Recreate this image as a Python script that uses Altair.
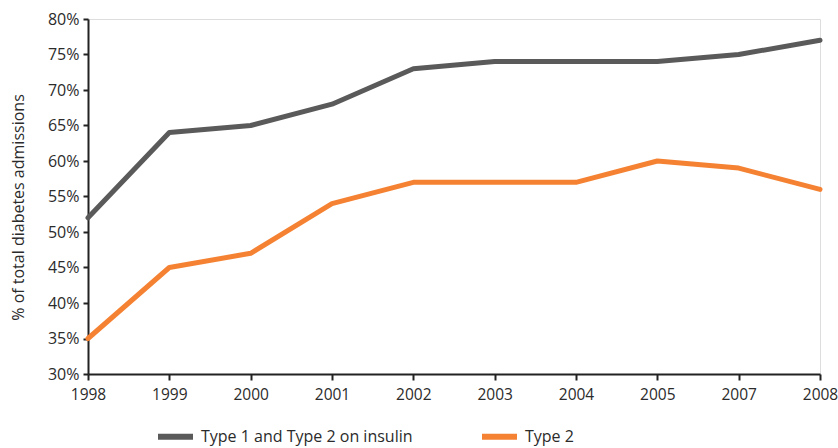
import altair as alt
import pandas as pd

years = ["1998", "1999", "2000", "2001", "2002", "2003", "2004", "2005", "2007", "2008"]
insulin = [52, 64, 65, 68, 73, 74, 74, 74, 75, 77]
type2 = [35, 45, 47, 54, 57, 57, 57, 60, 59, 56]
series_names = ["Type 1 and Type 2 on insulin", "Type 2"]
y_ticks = [30, 35, 40, 45, 50, 55, 60, 65, 70, 75, 80]

rows = []
for i, y in enumerate(years):
    rows.append({"year": y, "series": series_names[0], "value": insulin[i] / 100, "order": i})
    rows.append({"year": y, "series": series_names[1], "value": type2[i] / 100, "order": i})
df = pd.DataFrame(rows)

FONT = "Open Sans"
TXT = "#2b2b2b"
AX = "#222222"

chart = alt.Chart(df).mark_line(strokeWidth=5, strokeCap="round", strokeJoin="round").encode(
    x=alt.X("year:O", sort=years, scale=alt.Scale(type="point", padding=0),
            axis=alt.Axis(title=None, labelAngle=0, tickSize=6, labelPadding=7,
                          domainColor=AX, domainWidth=2, tickColor=AX, tickWidth=2,
                          labelFont=FONT, labelFontSize=15.5, labelColor=TXT, grid=False)),
    y=alt.Y("value:Q", scale=alt.Scale(domain=[0.30, 0.80], nice=False, zero=False),
            axis=alt.Axis(title="% of total diabetes admissions", format=".0%",
                          values=[v / 100 for v in y_ticks], tickSize=5, labelPadding=4,
                          domainColor=AX, domainWidth=2, tickColor=AX, tickWidth=2,
                          labelFont=FONT, labelFontSize=16, labelColor=TXT,
                          titleFont=FONT, titleFontSize=16, titleFontWeight="normal",
                          titleColor=TXT, titleX=-70, titleY=188, titleAngle=270,
                          titleAlign="center", titleBaseline="middle", grid=False)),
    color=alt.Color("series:N", sort=series_names,
                    scale=alt.Scale(domain=series_names, range=["#5a5a5a", "#F58233"]),
                    legend=alt.Legend(title=None, orient="none", direction="horizontal",
                                      legendX=67, legendY=397, symbolType="stroke",
                                      symbolSize=1225, symbolStrokeWidth=6,
                                      labelFont=FONT, labelFontSize=16, labelColor=TXT,
                                      columnPadding=57, labelOffset=5, padding=0,
                                      labelLimit=400)),
    order="order:Q",
).properties(
    width=732, height=355,
    autosize=alt.AutoSizeParams(type="none"),
    padding={"left": 88, "top": 19, "right": 18, "bottom": 74},
).configure_view(stroke=None).configure(background="white")

chart.save("out.html", embed_options={"renderer": "svg", "actions": False})
